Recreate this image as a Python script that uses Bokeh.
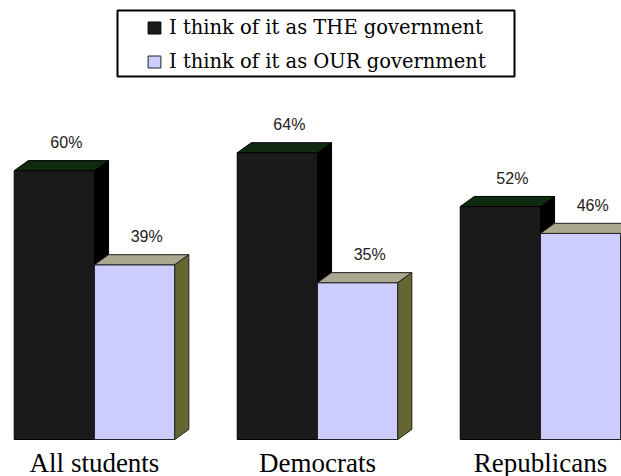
from bokeh.plotting import figure
from bokeh.models import Range1d, ColumnDataSource, Legend, LegendItem, BoxAnnotation
from bokeh.core.properties import value
from bokeh.embed import file_html
from bokeh.resources import INLINE

# ---- data ----
groups = ["All students", "Democrats", "Republicans"]
the_gov = [60, 64, 52]
our_gov = [39, 35, 46]
series_names = ["I think of it as THE government", "I think of it as OUR government"]

# ---- geometry (data units) ----
centers = [0, 1, 2]
bar_w = 0.36
dx = 0.063      # 3D depth, x
dy = 2.25       # 3D depth, y (percent units)

W, H = 621, 476
p = figure(width=W, height=H, output_backend="svg", toolbar_location=None,
           x_axis_type=None, y_axis_type=None, min_border=0,
           x_range=Range1d(-94 / 223, (W - 94) / 223),
           y_range=Range1d(-37 / 4.48, 439 / 4.48))
p.outline_line_color = None
p.grid.visible = False
p.background_fill_color = "white"
p.border_fill_color = "white"


def bar_sources(lefts, vals):
    rights = [l + bar_w for l in lefts]
    front = ColumnDataSource(dict(left=lefts, right=rights, top=vals, bottom=[0] * len(vals)))
    top = ColumnDataSource(dict(
        xs=[[l, l + dx, r + dx, r] for l, r in zip(lefts, rights)],
        ys=[[v, v + dy, v + dy, v] for v in vals]))
    side = ColumnDataSource(dict(
        xs=[[r, r + dx, r + dx, r] for r in rights],
        ys=[[0, dy, v + dy, v] for v in vals]))
    return front, top, side


black_left = [c - bar_w for c in centers]
light_left = [c for c in centers]
bf, bt, bs = bar_sources(black_left, the_gov)
lf, lt, ls = bar_sources(light_left, our_gov)

# black bars
p.patches("xs", "ys", source=bs, fill_color="#000000", line_color="#000000", line_width=1)
p.patches("xs", "ys", source=bt, fill_color="#0f2a0f", line_color="#000000", line_width=1)
r_black = p.quad(left="left", right="right", top="top", bottom="bottom", source=bf,
                 fill_color="#1a1a1a", line_color="#000000", line_width=1)
# light bars
r_light = p.quad(left="left", right="right", top="top", bottom="bottom", source=lf,
                 fill_color="#ccccff", line_color="#222222", line_width=1)
p.patches("xs", "ys", source=lt, fill_color="#aaa88f", line_color="#222222", line_width=1)
p.patches("xs", "ys", source=ls, fill_color="#666633", line_color="#222222", line_width=1)

# value labels
lab = ColumnDataSource(dict(
    x=[l + bar_w / 2 for l in black_left] + [l + bar_w / 2 for l in light_left],
    y=the_gov + our_gov,
    t=[f"{v}%" for v in the_gov + our_gov]))
p.text(x="x", y="y", text="t", source=lab, x_offset=12, y_offset=-28,
       text_align="center", text_baseline="middle",
       text_font=value("Liberation Sans"), text_font_size="16px", text_color="#222222")

# category labels
cat = ColumnDataSource(dict(x=centers, y=[0] * 3, t=groups))
p.text(x="x", y="y", text="t", source=cat, y_offset=8,
       text_align="center", text_baseline="top",
       text_font=value("Liberation Serif"), text_font_size="27px", text_color="#000000")

# legend box
box = BoxAnnotation(left=117, right=514, top=H - 10, bottom=H - 76,
                    left_units="screen", right_units="screen",
                    top_units="screen", bottom_units="screen",
                    fill_color="white", fill_alpha=1.0,
                    line_color="black", line_alpha=1.0, line_width=2)
p.add_layout(box)

legend = Legend(items=[LegendItem(label=series_names[0], renderers=[r_black]),
                       LegendItem(label=series_names[1], renderers=[r_light])],
                location=(146, H - 73), padding=0, margin=0, spacing=11,
                glyph_width=16, glyph_height=15, label_height=21, label_standoff=7,
                border_line_color=None, background_fill_alpha=0,
                label_text_font="DejaVu Serif", label_text_font_size="19.5px",
                label_text_color="#000000")
p.add_layout(legend)

open("out.html", "w").write(file_html(p, INLINE))
